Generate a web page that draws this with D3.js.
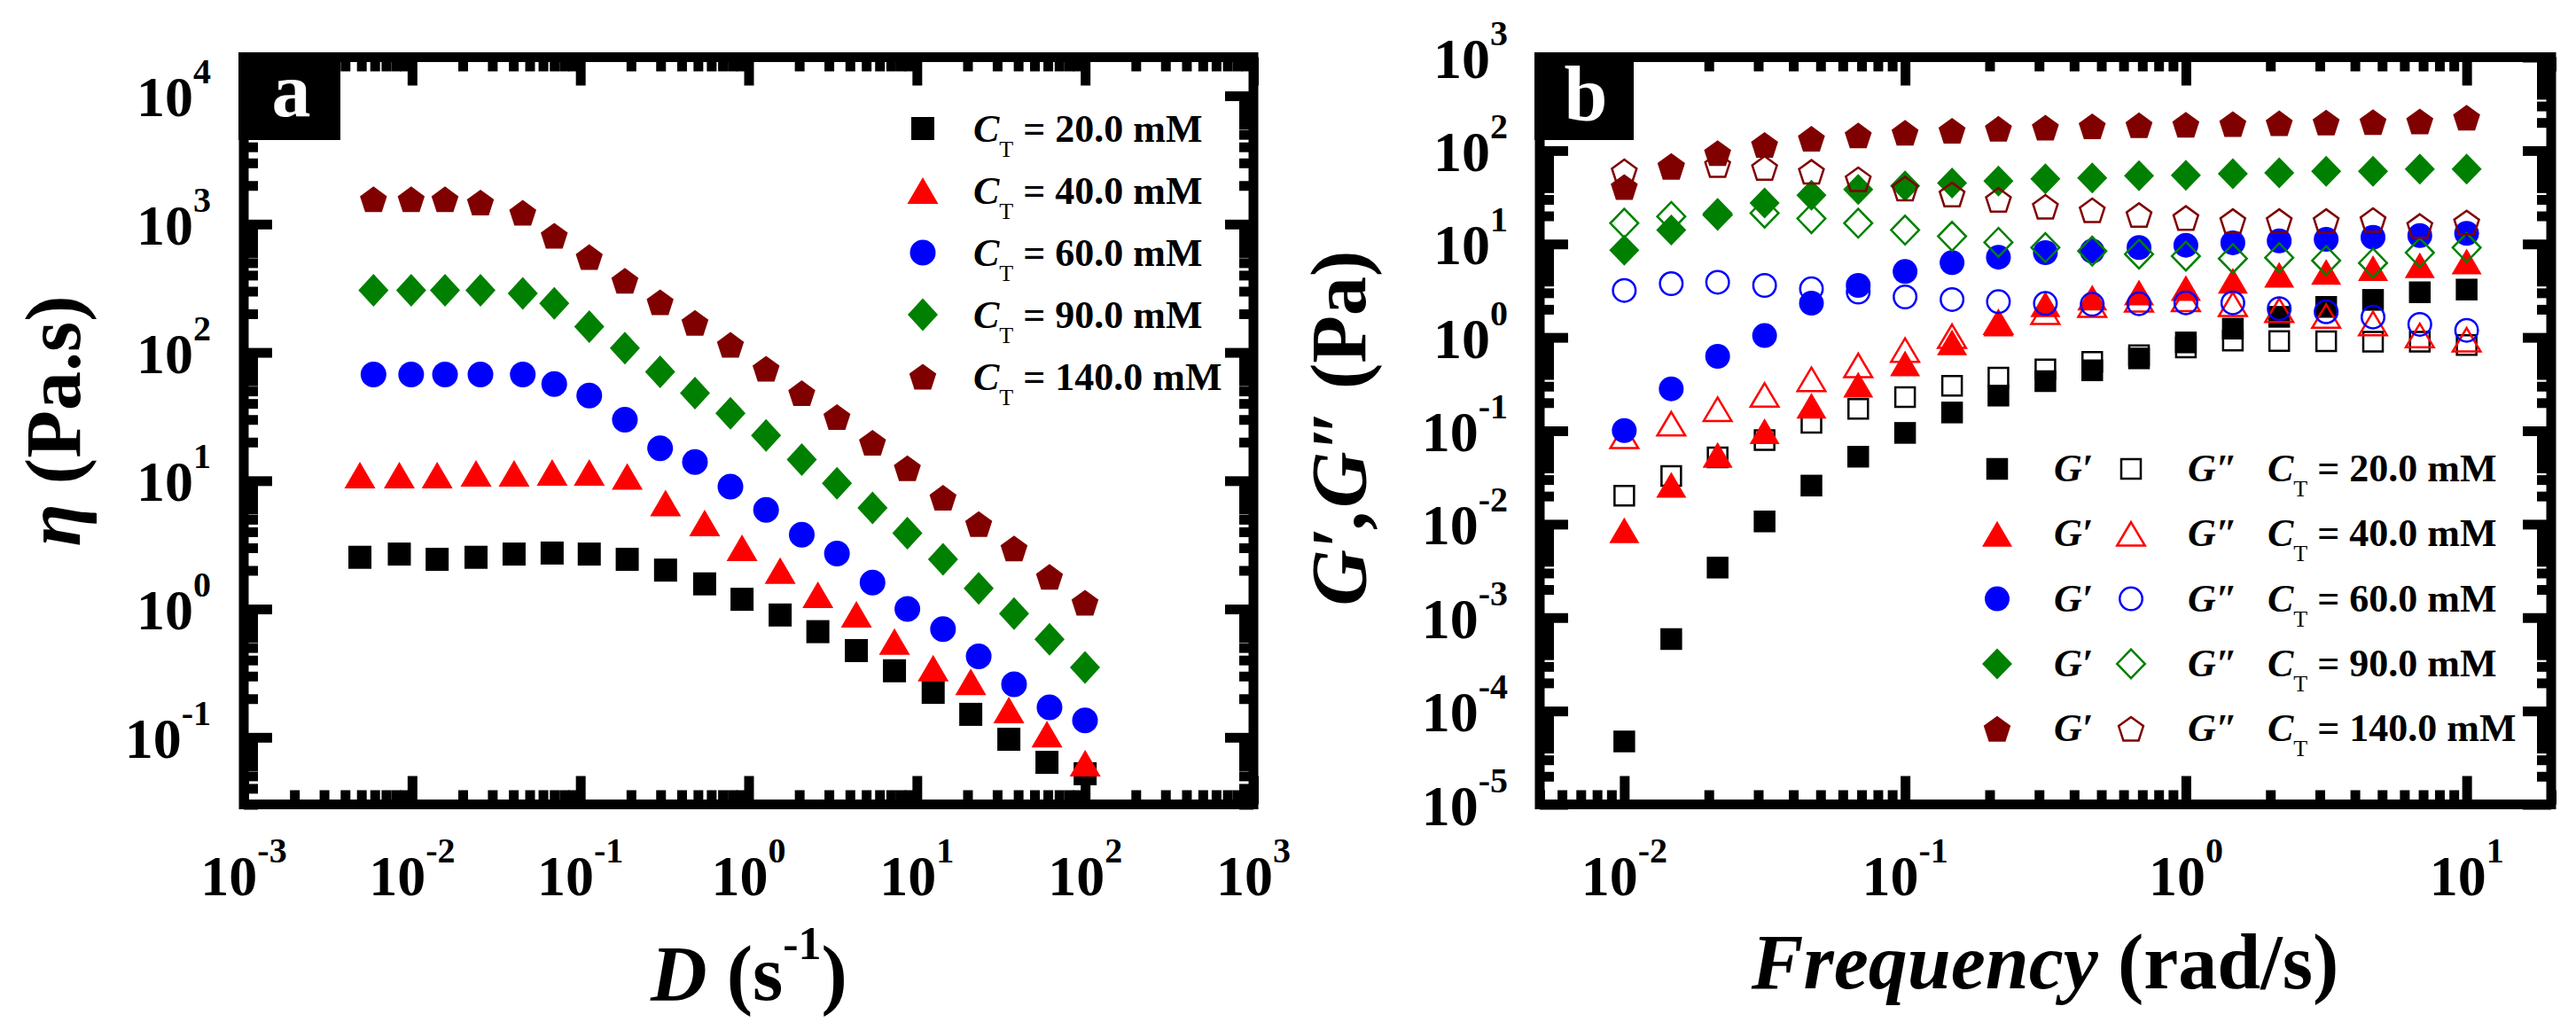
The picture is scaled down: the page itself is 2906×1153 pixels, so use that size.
<!DOCTYPE html>
<html>
<head>
<meta charset="utf-8">
<script src="https://cdn.jsdelivr.net/npm/d3@7"></script>
<style>
  body { margin: 0; background: #fff; }
  text { font-family: "Liberation Serif", "Times New Roman", serif; white-space: pre; }
</style>
</head>
<body>
<svg id="fig"></svg>
<script>
// ---- panel a : viscosity vs shear rate ----
var shearLow = [0.0049, 0.0084, 0.0141, 0.024, 0.0404, 0.068, 0.113, 0.19, 0.321, 0.548,
                0.914, 1.54, 2.58, 4.37, 7.36, 12.5, 20.9, 35.2, 59.3, 100];
var shearHigh = [0.0059, 0.00988, 0.0157, 0.0255, 0.0455, 0.070, 0.113, 0.184, 0.298, 0.48,
                 0.78, 1.27, 2.07, 3.35, 5.45, 8.78, 14.3, 23.3, 37.8, 61.4, 99.8];
var eta20 = [2.53, 2.68, 2.44, 2.53, 2.68, 2.73, 2.68, 2.44, 2.01, 1.57,
             1.19, 0.898, 0.666, 0.474, 0.33, 0.224, 0.151, 0.0966, 0.0638, 0.052];
var eta40 = [11.07, 11.07, 11.07, 11.4, 11.4, 11.6, 11.6, 10.8, 6.69, 4.69,
             3.0, 1.99, 1.29, 0.909, 0.557, 0.346, 0.271, 0.163, 0.106, 0.0628];
var eta60 = [67.2, 67.2, 67.2, 67.2, 67.2, 56.7, 46.1, 29.9, 17.9, 14.0,
             9.0, 5.93, 3.79, 2.71, 1.61, 1.0, 0.698, 0.428, 0.259, 0.171, 0.1355];
var eta90 = [305, 305, 305, 305, 288, 241, 158.6, 108, 70.6, 48.1,
             33.5, 22.5, 14.6, 9.53, 6.14, 3.90, 2.44, 1.45, 0.92, 0.58, 0.35];
var eta140 = [1560, 1560, 1560, 1473, 1225, 812, 553, 361, 246, 170,
              114.5, 74.7, 48.1, 31.4, 19.8, 12.5, 7.36, 4.59, 2.97, 1.78, 1.12];

// ---- panel b : G', G'' vs frequency ----
var freq = [0.01, 0.0147, 0.0215, 0.0316, 0.0464, 0.0681, 0.1, 0.147, 0.215, 0.316,
            0.464, 0.681, 1, 1.47, 2.15, 3.16, 4.64, 6.81, 10];
var gp20 = [4.72e-5, 5.89e-4, 3.43e-3, 0.0107, 0.0259, 0.0528, 0.0949, 0.157, 0.238, 0.340,
            0.444, 0.596, 0.883, 1.24, 1.66, 2.12, 2.52, 3.04, 3.25];
var gpp20 = [0.0202, 0.0328, 0.0519, 0.0795, 0.122, 0.172, 0.230, 0.303, 0.371, 0.455,
             0.546, 0.645, 0.780, 0.923, 0.914, 0.91, 0.90, 0.90, 0.827];
var gp40 = [0.0086, 0.0264, 0.0551, 0.0989, 0.185, 0.311, 0.526, 0.883, 1.41, 2.26,
            2.67, 3.02, 3.37, 4.04, 4.68, 5.03, 5.50, 5.92, 6.49];
var gpp40 = [0.087, 0.119, 0.170, 0.242, 0.356, 0.501, 0.731, 1.03, 1.45, 1.86,
             2.21, 2.52, 2.55, 2.26, 1.95, 1.69, 1.41, 1.05, 0.943];
var gp60 = [0.1005, 0.281, 0.627, 1.045, 2.32, 3.60, 5.07, 6.31, 7.21, 8.08,
            8.38, 9.16, 9.70, 10.3, 10.8, 11.2, 11.8, 12.3, 13.0];
var gpp60 = [3.18, 3.76, 3.89, 3.60, 3.31, 3.05, 2.71, 2.54, 2.41, 2.31,
             2.26, 2.29, 2.34, 2.34, 2.03, 1.88, 1.65, 1.38, 1.19];
var gp90 = [8.59, 14.1, 21.2, 27.5, 33.3, 38.4, 41.8, 45.0, 47.3, 49.9,
            51.0, 53.7, 54.4, 56.5, 57.8, 60.0, 60.0, 63.4, 63.4];
var gpp90 = [16.7, 19.7, 20.5, 21.4, 18.7, 16.7, 14.1, 12.1, 10.4, 9.15,
             8.39, 7.79, 7.41, 6.98, 7.13, 6.64, 6.26, 8.08, 9.15];
var gp140 = [40.7, 68.4, 94, 115, 133.6, 145, 155, 163, 171, 176,
             182, 186.5, 189, 192, 196, 199.5, 202, 205, 225];
var gpp140 = [60, 67, 70, 65, 59.2, 49.3, 39.1, 33.9, 29.6, 25,
              22.9, 20.4, 19, 17.6, 17.6, 17.6, 18.0, 15.6, 17.0];

var concLabels = ["20.0", "40.0", "60.0", "90.0", "140.0"];
var colors = ["#000000", "#ff0000", "#0000ff", "#008000", "#800000"];
var shapes = ["square", "triangle", "circle", "diamond", "pentagon"];

var svg = d3.select("#fig").attr("width", 2906).attr("height", 1153);
svg.append("rect").attr("width", 2906).attr("height", 1153).attr("fill", "#fff");

var xA = d3.scaleLog().domain([1e-3, 1e3]).range([275, 1414]);
var yA = d3.scaleLog().domain([0.03, 20000]).range([907.5, 64.5]);
var xB = d3.scaleLog().domain([0.005, 20]).range([1737, 2878]);
var yB = d3.scaleLog().domain([1e-5, 1e3]).range([907.5, 64.5]);

var sizeA = {square: [26, 26], triangle: [35, 30], circle: [29, 29], diamond: [34, 37], pentagon: [32, 29]};
var sizeB = {square: [24.5, 24.5], triangle: [34, 29], circle: [28, 28], diamond: [34, 35], pentagon: [31, 29]};

function isDecade(v) {
  var l = Math.log10(v);
  return Math.abs(l - Math.round(l)) < 1e-6;
}

function shapePath(shape, w, h) {
  if (shape == "square") return "M" + (-w / 2) + "," + (-h / 2) + "h" + w + "v" + h + "h" + (-w) + "Z";
  if (shape == "triangle") return "M0," + (-h / 2) + "L" + (w / 2) + "," + (h / 2) + "L" + (-w / 2) + "," + (h / 2) + "Z";
  if (shape == "diamond") return "M0," + (-h / 2) + "L" + (w / 2) + ",0L0," + (h / 2) + "L" + (-w / 2) + ",0Z";
  if (shape == "circle") {
    var r = w / 2;
    return "M" + (-r) + ",0a" + r + "," + r + " 0 1,0 " + (2 * r) + ",0a" + r + "," + r + " 0 1,0 " + (-2 * r) + ",0Z";
  }
  // pentagon, bounding box centred on the point
  var R = h / 1.809, off = 0.0955 * R, pts = [];
  for (var k = 0; k < 5; k++) {
    var a = -Math.PI / 2 + k * 2 * Math.PI / 5;
    pts.push([R * Math.cos(a), R * Math.sin(a) + off]);
  }
  return "M" + pts.join("L") + "Z";
}

function marker(g, shape, size, color, hollow, x, y) {
  var s = size[shape];
  var p = g.append("path").attr("transform", "translate(" + x + "," + y + ")");
  if (hollow) {
    p.attr("d", shapePath(shape, s[0] - 2.5, s[1] - 2.5)).attr("fill", "none")
     .attr("stroke", color).attr("stroke-width", 2.5);
  } else {
    p.attr("d", shapePath(shape, s[0], s[1])).attr("fill", color);
  }
}

function frame(xs, ys, yLabelX, letter, boxW, letterY) {
  var x0 = xs.range()[0], x1 = xs.range()[1], y0 = ys.range()[1], y1 = ys.range()[0];
  var xt = xs.ticks(), yt = ys.ticks();
  var xMaj = xt.filter(isDecade), xMin = xt.filter(function(d) { return !isDecade(d); });
  var yMaj = yt.filter(isDecade), yMin = yt.filter(function(d) { return !isDecade(d); });
  var g = svg.append("g");

  var sets = [[xMaj, 32], [xMin, 16]];
  sets.forEach(function(s) {
    g.append("g").attr("transform", "translate(0," + y1 + ")")
      .call(d3.axisBottom(xs).tickValues(s[0]).tickSize(-s[1]).tickSizeOuter(0).tickFormat(""));
    g.append("g").attr("transform", "translate(0," + y0 + ")")
      .call(d3.axisTop(xs).tickValues(s[0]).tickSize(-s[1]).tickSizeOuter(0).tickFormat(""));
  });
  [[yMaj, 32], [yMin, 16]].forEach(function(s) {
    g.append("g").attr("transform", "translate(" + x0 + ",0)")
      .call(d3.axisLeft(ys).tickValues(s[0]).tickSize(-s[1]).tickSizeOuter(0).tickFormat(""));
    g.append("g").attr("transform", "translate(" + x1 + ",0)")
      .call(d3.axisRight(ys).tickValues(s[0]).tickSize(-s[1]).tickSizeOuter(0).tickFormat(""));
  });
  g.selectAll(".domain").remove();
  g.selectAll(".tick line").attr("stroke", "#000").attr("stroke-width", 11);

  g.append("rect").attr("x", x0).attr("y", y0).attr("width", x1 - x0).attr("height", y1 - y0)
    .attr("fill", "none").attr("stroke", "#000").attr("stroke-width", 11);

  // panel letter box
  g.append("rect").attr("x", x0 - 6).attr("y", y0 - 5.5).attr("width", boxW).attr("height", 99).attr("fill", "#000");
  g.append("text").attr("x", x0 - 6 + boxW / 2 + 2).attr("y", letterY).attr("text-anchor", "middle")
    .attr("font-size", 88).attr("font-weight", "bold").attr("fill", "#fff").text(letter);

  // tick labels
  xMaj.forEach(function(v) {
    var t = g.append("text").attr("x", xs(v)).attr("y", 1010).attr("text-anchor", "middle")
      .attr("font-size", 64).attr("font-weight", "bold");
    t.append("tspan").text("10");
    t.append("tspan").attr("dy", -37).attr("font-size", 40).text(String(Math.round(Math.log10(v))));
  });
  yMaj.forEach(function(v) {
    var t = g.append("text").attr("x", yLabelX).attr("y", ys(v) + 23).attr("text-anchor", "end")
      .attr("font-size", 64).attr("font-weight", "bold");
    t.append("tspan").text("10");
    t.append("tspan").attr("dy", -37).attr("font-size", 40).text(String(Math.round(Math.log10(v))));
  });
}

frame(xA, yA, 238, "a", 115, 131);
frame(xB, yB, 1701, "b", 112, 136);

// ---- data panel a ----
var seriesA = [[shearLow, eta20], [shearLow, eta40], [shearHigh, eta60], [shearHigh, eta90], [shearHigh, eta140]];
var gA = svg.append("g");
seriesA.forEach(function(s, i) {
  s[1].forEach(function(v, j) {
    marker(gA, shapes[i], sizeA, colors[i], false, xA(s[0][j]), yA(v));
  });
});

// ---- data panel b ----
var seriesB = [[gp20, gpp20], [gp40, gpp40], [gp60, gpp60], [gp90, gpp90], [gp140, gpp140]];
var gB = svg.append("g");
seriesB.forEach(function(s, i) {
  s[0].forEach(function(v, j) { marker(gB, shapes[i], sizeB, colors[i], false, xB(freq[j]), yB(v)); });
  s[1].forEach(function(v, j) { marker(gB, shapes[i], sizeB, colors[i], true, xB(freq[j]), yB(v)); });
});

// ---- legends ----
function ctLabel(t, label) {
  t.append("tspan").attr("font-style", "italic").text("C");
  t.append("tspan").attr("dy", 17).attr("font-size", 26).attr("font-weight", "normal").text("T");
  t.append("tspan").attr("dy", -17).text(" = " + label + " mM");
}

concLabels.forEach(function(lab, i) {
  var cy = 145 + 70 * i;
  marker(svg, shapes[i], sizeA, colors[i], false, 1041, cy);
  var t = svg.append("text").attr("x", 1098).attr("y", cy + 15).attr("font-size", 44).attr("font-weight", "bold");
  ctLabel(t, lab);
});

concLabels.forEach(function(lab, i) {
  var cy = 529 + 73.3 * i;
  marker(svg, shapes[i], sizeB, colors[i], false, 2253, cy);
  svg.append("text").attr("x", 2317).attr("y", cy + 14).attr("font-size", 44).attr("font-weight", "bold")
    .attr("font-style", "italic").text("G\u2032");
  marker(svg, shapes[i], sizeB, colors[i], true, 2404, cy);
  svg.append("text").attr("x", 2468).attr("y", cy + 14).attr("font-size", 44).attr("font-weight", "bold")
    .attr("font-style", "italic").text("G\u2033");
  var t = svg.append("text").attr("x", 2558).attr("y", cy + 14).attr("font-size", 44).attr("font-weight", "bold");
  ctLabel(t, lab);
});

// ---- axis titles ----
var ta = svg.append("text").attr("transform", "translate(90,475) rotate(-90)").attr("text-anchor", "middle")
  .attr("font-size", 88).attr("font-weight", "bold");
ta.append("tspan").attr("font-style", "italic").text("\u03b7");
ta.append("tspan").text(" (Pa.s)");

var tb = svg.append("text").attr("transform", "translate(1540,483) rotate(-90)").attr("text-anchor", "middle")
  .attr("font-size", 88).attr("font-weight", "bold");
tb.append("tspan").attr("font-style", "italic").text("G\u2032,G\u2033");
tb.append("tspan").text(" (Pa)");

var xa = svg.append("text").attr("x", 845).attr("y", 1128).attr("text-anchor", "middle")
  .attr("font-size", 88).attr("font-weight", "bold");
xa.append("tspan").attr("font-style", "italic").text("D");
xa.append("tspan").text(" (s");
xa.append("tspan").attr("dy", -46).attr("font-size", 52).text("-1");
xa.append("tspan").attr("dy", 46).text(")");

var xb = svg.append("text").attr("x", 2307).attr("y", 1115).attr("text-anchor", "middle")
  .attr("font-size", 88).attr("font-weight", "bold");
xb.append("tspan").attr("font-style", "italic").text("Frequency");
xb.append("tspan").text(" (rad/s)");
</script>
</body>
</html>
